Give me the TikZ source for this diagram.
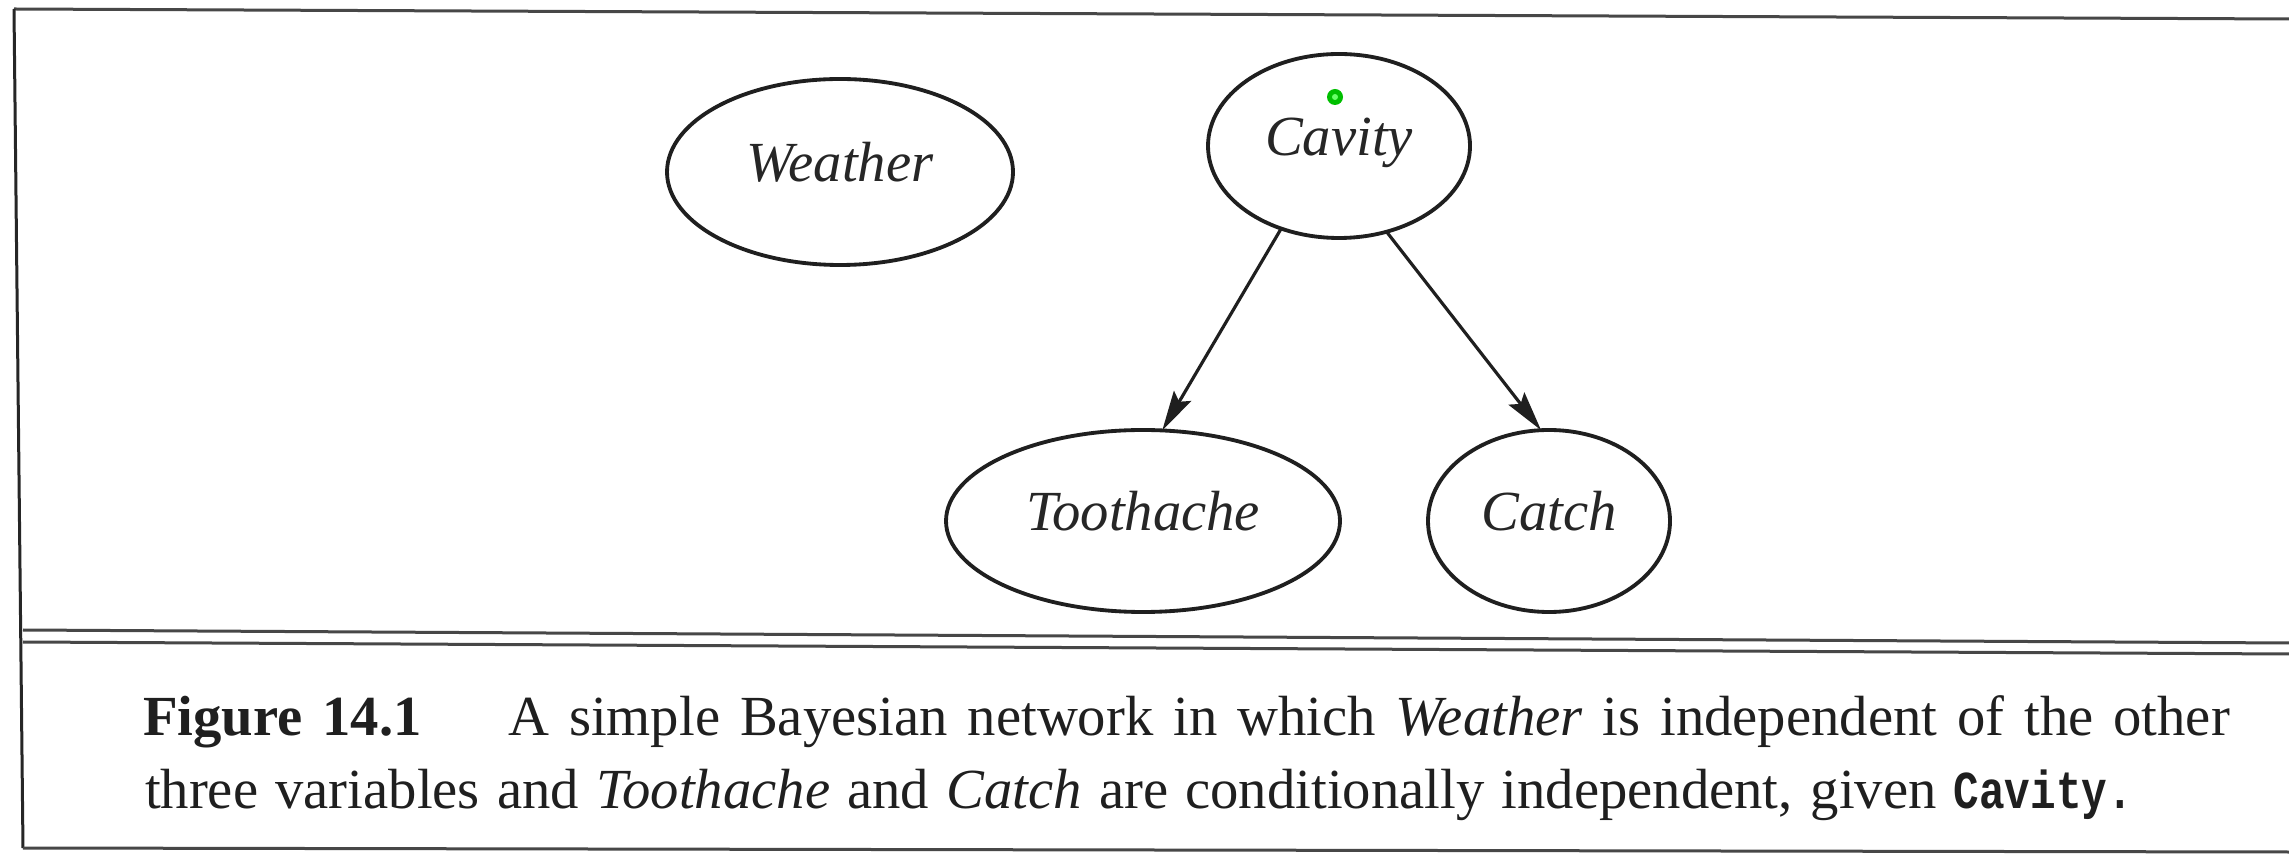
\documentclass[tikz,border=0pt]{standalone}
\usepackage{fontspec}
\usepackage{graphicx}
\setmainfont{Liberation Serif}
\setmonofont{Liberation Mono}
\usetikzlibrary{shapes.geometric,arrows.meta}

\begin{document}
\begin{tikzpicture}[x=0.3pt,y=-0.3pt,
  rule/.style={line width=0.9pt, draw=black!72},
  var/.style={ellipse, draw=black!88, line width=1.15pt, inner sep=0pt, outer sep=0pt,
    font=\fontsize{17}{20}\selectfont\itshape, text=black!85,
    text height=0.7em, text depth=0.15em},
  link/.style={-{Stealth[length=12pt,width=6pt,inset=2pt]}, line width=0.95pt, draw=black!88},
  captionline/.style={anchor=base west, inner sep=0pt, outer sep=0pt,
    font=\fontsize{17}{20}\selectfont, text=black!88}]

\useasboundingbox (0,0) rectangle (2289,856);
\fill[white] (0,0) rectangle (2289,856);

% frame of the figure box
\draw[rule] (14,9) -- (2289,19);
\draw[rule, draw=black!85] (14,9) -- (23,848);
\draw[rule] (23,630) -- (2289,643);
\draw[rule] (23,642) -- (2289,654);
\draw[rule] (23,848) -- (2289,852);

% network variables
\node[var, minimum width=103.8pt, minimum height=55.8pt] (weather) at (840,172) {Weather};
\node[var, minimum width=78.6pt, minimum height=55.2pt] (cavity) at (1339,146) {Cavity};
\node[var, minimum width=118.2pt, minimum height=54.6pt] (toothache) at (1143,521) {Toothache};
\node[var, minimum width=72.6pt, minimum height=54.6pt] (catch) at (1549,521) {Catch};

% dependencies
\draw[link] (cavity.235.2) -- (toothache.78.2);
\draw[link] (cavity.299.7) -- (catch.95.6);

% pointer marker
\fill[green!75!black] (1335,97) circle[radius=2.4pt];
\fill[green!60!white] (1335,97) circle[radius=0.9pt];

% caption
\node[captionline] (cap1) at (143,735)
  {\makebox[626.1pt][s]{\textbf{Figure 14.1}\hspace{26pt}A simple Bayesian network in which \textit{Weather} is independent of the other}};
\node[captionline] (cap2) at (145,808)
  {\makebox[596.4pt][s]{three variables and \textit{Toothache} and \textit{Catch} are conditionally independent, given \scalebox{0.8}[1]{\fontsize{16}{18}\selectfont\ttfamily\bfseries Cavity.}}};
\end{tikzpicture}
\end{document}
